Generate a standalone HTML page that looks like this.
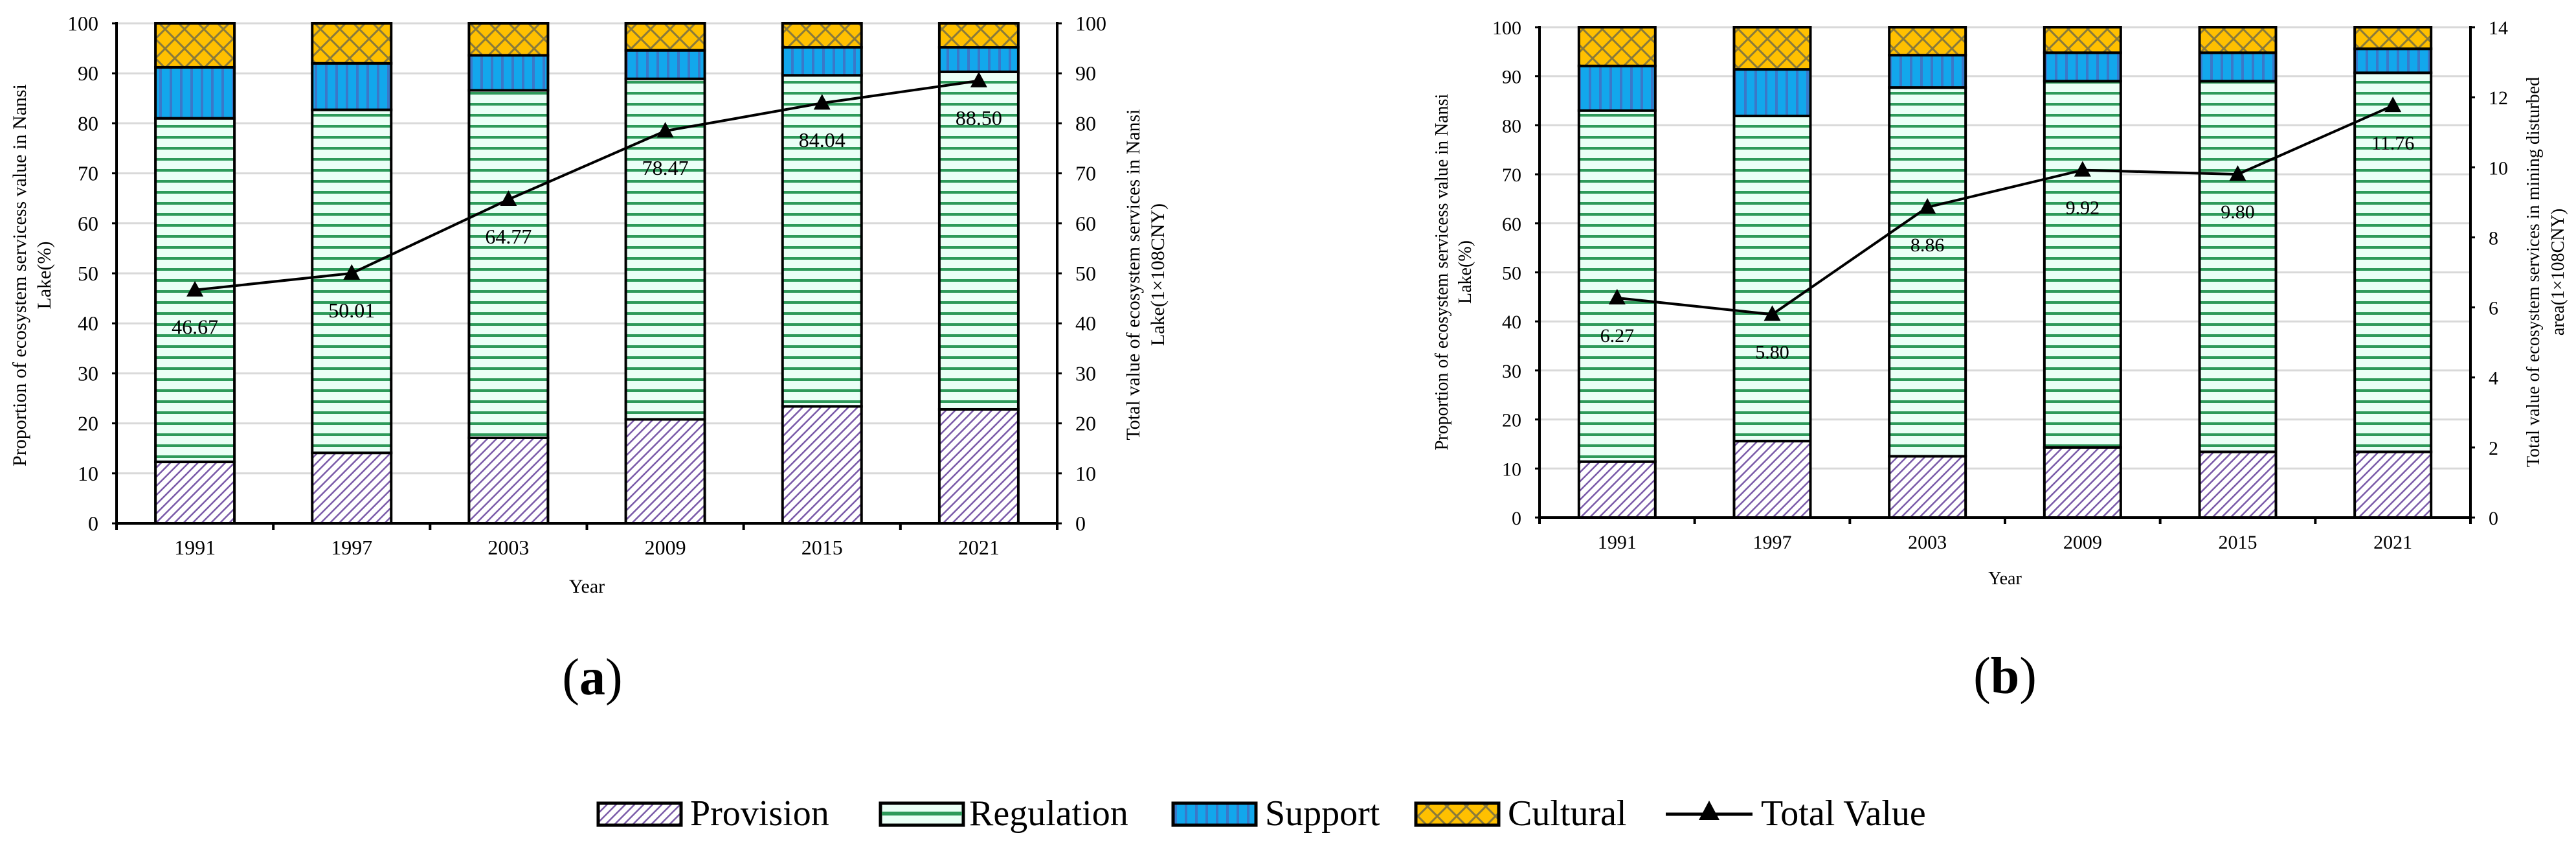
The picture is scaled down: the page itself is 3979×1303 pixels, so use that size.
<!DOCTYPE html>
<html><head><meta charset="utf-8">
<style>
html,body{margin:0;padding:0;background:#fff;}
svg{display:block;font-family:"Liberation Serif",serif;}
</style></head>
<body>
<svg id="fig" width="3979" height="1303" viewBox="0 0 3979 1303" xmlns="http://www.w3.org/2000/svg">
<defs>
<pattern id="pProv" patternUnits="userSpaceOnUse" width="10" height="10" patternTransform="rotate(45)">
<rect width="10" height="10" fill="#ffffff"/><rect x="0" y="0" width="2.5" height="10" fill="#7a5aa8"/>
</pattern>
<pattern id="pReg" patternUnits="userSpaceOnUse" width="20" height="17">
<rect width="20" height="17" fill="#eafff6"/><rect x="0" y="6" width="20" height="4" fill="#2e9a5a"/>
</pattern>
<pattern id="pSup" patternUnits="userSpaceOnUse" width="16" height="20">
<rect width="16" height="20" fill="#12a7ec"/><rect x="6" y="0" width="4" height="20" fill="#3a78c9"/>
</pattern>
<pattern id="pCul" patternUnits="userSpaceOnUse" width="30" height="30">
<rect width="30" height="30" fill="#ffc000"/>
<path d="M0,0 L30,30 M30,0 L0,30" stroke="#8a7a3a" stroke-width="3"/>
</pattern>
</defs>
<g id="chartA"></g>
<g id="chartB"></g>
<text x="915" y="1072" font-size="80" text-anchor="middle">(<tspan font-weight="bold">a</tspan>)</text>
<text x="3097" y="1070" font-size="80" text-anchor="middle">(<tspan font-weight="bold">b</tspan>)</text>
<g font-size="56">
<g><rect x="924" y="1240" width="128" height="34" fill="url(#pProv)" stroke="#000" stroke-width="5"/><text x="1066" y="1274">Provision</text></g>
<g><rect x="1360" y="1240" width="128" height="34" fill="#eafff6" stroke="#000" stroke-width="5"/><rect x="1362" y="1253" width="124" height="6" fill="#2e9a5a"/><text x="1497" y="1274">Regulation</text></g>
<g><rect x="1812" y="1240" width="128" height="34" fill="url(#pSup)" stroke="#000" stroke-width="5"/><text x="1954" y="1274">Support</text></g>
<g><rect x="2187" y="1240" width="128" height="34" fill="url(#pCul)" stroke="#000" stroke-width="5"/><text x="2329" y="1274">Cultural</text></g>
<g><line x1="2573" y1="1257" x2="2707" y2="1257" stroke="#000" stroke-width="5"/><polygon points="2640,1236 2656,1266 2624,1266" fill="#000"/><text x="2720" y="1274">Total Value</text></g>
</g>
</svg>
<script>
const years = ["1991","1997","2003","2009","2015","2021"];
const provA = [12.3,14.1,17.1,20.8,23.4,22.8];
const regA = [68.7,68.6,69.5,68.1,66.2,67.5];
const supA = [10.2,9.3,7.0,5.7,5.6,4.9];
const culA = [8.8,8.0,6.4,5.4,4.8,4.8];
const totalA = [46.67,50.01,64.77,78.47,84.04,88.50];
const totalLabelsA = ["46.67","50.01","64.77","78.47","84.04","88.50"];
const provB = [11.4,15.6,12.5,14.3,13.4,13.4];
const regB = [71.6,66.3,75.2,74.7,75.6,77.3];
const supB = [9.1,9.5,6.6,5.8,5.8,4.9];
const culB = [7.9,8.6,5.7,5.2,5.2,4.4];
const totalB = [6.27,5.80,8.86,9.92,9.80,11.76];
const totalLabelsB = ["6.27","5.80","8.86","9.92","9.80","11.76"];
const leftTicks = [0,10,20,30,40,50,60,70,80,90,100];
const rightTicksA = [0,10,20,30,40,50,60,70,80,90,100];
const rightTicksB = [0,2,4,6,8,10,12,14];

const NS="http://www.w3.org/2000/svg";
function mk(parent,tag,attrs){const e=document.createElementNS(NS,tag);for(const k in attrs)e.setAttribute(k,attrs[k]);parent.appendChild(e);return e;}

function draw(g,cfg){
  const {x0,x1,y0,y1,bw,rmax,series,total,labels,rticks,fs,lt,rt}=cfg;
  const cw=(x1-x0)/years.length;
  const yL=v=>y0-(v/100)*(y0-y1);
  const yR=v=>y0-(v/rmax)*(y0-y1);
  const xC=i=>x0+cw*(i+0.5);
  leftTicks.forEach(t=>{
    const l=mk(g,'line',{x1:x0,x2:x1,y1:yL(t),y2:yL(t),stroke:'#d9d9d9','stroke-width':3});
    
    
  });
  const fills=['url(#pProv)','url(#pReg)','url(#pSup)','url(#pCul)'];
  const names=['provision','regulation','support','cultural'];
  years.forEach((yr,i)=>{
    let base=0;
    series.forEach((s,k)=>{
      const top=base+s[i];
      const r=mk(g,'rect',{x:xC(i)-bw/2,y:yL(top),width:bw,height:yL(base)-yL(top),fill:fills[k],stroke:'#000','stroke-width':4});
      
      
      base=top;
    });
    const t=mk(g,'text',{x:xC(i),y:y0+48,'font-size':fs,'text-anchor':'middle'});
    t.textContent=yr;
    
    
  });
  const ax=mk(g,'path',{d:`M${x0},${y1-2} L${x0},${y0} L${x1},${y0} M${x1},${y1-2} L${x1},${y0}`,stroke:'#000','stroke-width':4,fill:'none'});
  
  
  for(let i=0;i<=years.length;i++){
    const tk=mk(g,'line',{x1:x0+cw*i,x2:x0+cw*i,y1:y0,y2:y0+10,stroke:'#000','stroke-width':4});
    
    
  }
  leftTicks.forEach(t=>{
    mk(g,'line',{x1:x0-7,x2:x0,y1:yL(t),y2:yL(t),stroke:'#000','stroke-width':3});
    const tx=mk(g,'text',{x:x0-28,y:yL(t)+11,'font-size':fs,'text-anchor':'end'});
    tx.textContent=t;
    
    
  });
  rticks.forEach(t=>{
    mk(g,'line',{x1:x1,x2:x1+7,y1:yR(t),y2:yR(t),stroke:'#000','stroke-width':3});
    const tx=mk(g,'text',{x:x1+28,y:yR(t)+11,'font-size':fs,'text-anchor':'start'});
    tx.textContent=t;
    
    
  });
  const pts=total.map((v,i)=>xC(i)+','+yR(v)).join(' ');
  const pl=mk(g,'polyline',{points:pts,fill:'none',stroke:'#000','stroke-width':4});
  
  
  total.forEach((v,i)=>{
    const cx=xC(i),cy=yR(v);
    const m=mk(g,'polygon',{points:`${cx},${cy-14} ${cx+13},${cy+10} ${cx-13},${cy+10}`,fill:'#000'});
    
    
    const lb=mk(g,'text',{x:cx,y:cy+68,'font-size':fs,'text-anchor':'middle'});
    lb.textContent=labels[i];
    
    
  });
  const xt=mk(g,'text',{x:(x0+x1)/2,y:cfg.yearY,'font-size':fs-2,'text-anchor':'middle'});
  xt.textContent='Year';
  
  
  const lt1=mk(g,'text',{transform:`translate(${lt.x},${lt.y}) rotate(-90)`,'font-size':fs-2,'text-anchor':'middle'});
  
  
  const a1=mk(lt1,'tspan',{x:0,y:0});a1.textContent=lt.l1;
  const a2=mk(lt1,'tspan',{x:0,y:lt.gap});a2.textContent=lt.l2;
  const rt1=mk(g,'text',{transform:`translate(${rt.x},${rt.y}) rotate(-90)`,'font-size':fs-2,'text-anchor':'middle'});
  
  
  const b1=mk(rt1,'tspan',{x:0,y:0});b1.textContent=rt.l1;
  const b2=mk(rt1,'tspan',{x:0,y:rt.gap});b2.textContent=rt.l2;
}
draw(document.getElementById('chartA'),{x0:180,x1:1633,y0:808,y1:36,bw:122,rmax:100,series:[provA,regA,supA,culA],total:totalA,labels:totalLabelsA,rticks:rightTicksA,fs:32,yearY:915,
  lt:{x:40,y:425,gap:38,l1:'Proportion of ecosystem servicess value in Nansi',l2:'Lake(%)'},
  rt:{x:1760,y:424,gap:38,l1:'Total value of ecosystem services in Nansi',l2:'Lake(1×108CNY)'}});
draw(document.getElementById('chartB'),{x0:2378,x1:3816,y0:799,y1:42,bw:118,rmax:14,series:[provB,regB,supB,culB],total:totalB,labels:totalLabelsB,rticks:rightTicksB,fs:30,yearY:902,
  lt:{x:2236,y:420,gap:36,l1:'Proportion of ecosystem servicess value in Nansi',l2:'Lake(%)'},
  rt:{x:3922,y:420,gap:38,l1:'Total value of ecosystem services in mining disturbed',l2:'area(1×108CNY)'}});
</script>
</body></html>
